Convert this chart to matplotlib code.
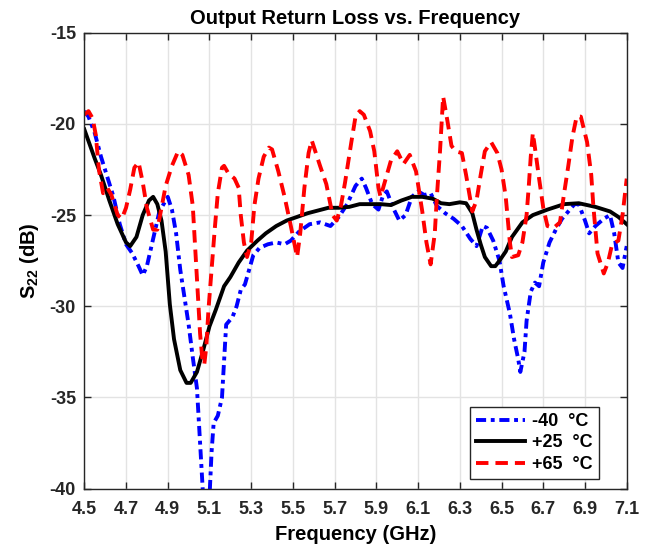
import matplotlib
matplotlib.use('Agg')
import matplotlib.pyplot as plt

plt.rcParams['font.family'] = ['Liberation Sans', 'DejaVu Sans']
plt.rcParams['mathtext.fontset'] = 'custom'
plt.rcParams['mathtext.rm'] = 'Liberation Sans'
plt.rcParams['mathtext.bf'] = 'Liberation Sans:bold'

# -40 C trace
freq_cold = [4.50, 4.52, 4.55, 4.58, 4.61, 4.64, 4.67, 4.70, 4.73, 4.76, 4.78, 4.80,
             4.83, 4.86, 4.90, 4.92, 4.94, 4.96, 4.98, 5.00, 5.02, 5.04, 5.05, 5.06,
             5.07, 5.085, 5.10, 5.11, 5.12, 5.14, 5.16, 5.17, 5.18, 5.21, 5.23, 5.25,
             5.27, 5.29, 5.31, 5.34, 5.38, 5.42, 5.46, 5.49, 5.53, 5.58, 5.63, 5.68,
             5.72, 5.76, 5.80, 5.83, 5.85, 5.88, 5.91, 5.93, 5.95, 5.98, 6.01, 6.04,
             6.07, 6.10, 6.13, 6.16, 6.19, 6.23, 6.27, 6.31, 6.35, 6.38, 6.41, 6.43,
             6.46, 6.49, 6.51, 6.54, 6.56, 6.58, 6.59, 6.61, 6.62, 6.64, 6.66, 6.68,
             6.70, 6.73, 6.76, 6.79, 6.82, 6.85, 6.87, 6.90, 6.92, 6.95, 6.99, 7.02,
             7.04, 7.06, 7.08, 7.10]
s22_cold = [-19.3, -19.6, -20.5, -21.8, -22.9, -24.0, -25.5, -26.6, -27.1, -27.8, -28.3, -27.8,
            -26.3, -24.8, -24.0, -24.7, -26.0, -28.0, -29.5, -31.0, -32.8, -34.5, -36.5, -38.5,
            -40.5, -41.5, -40.5, -38.0, -36.4, -36.0, -35.0, -33.0, -31.0, -30.6, -30.0, -29.1,
            -28.8, -28.0, -27.2, -26.8, -26.6, -26.5, -26.6, -26.4, -25.9, -25.5, -25.4, -25.6,
            -25.1, -24.4, -23.4, -23.0, -23.5, -24.4, -24.7, -24.0, -23.7, -24.6, -25.3, -25.0,
            -24.0, -23.7, -23.9, -23.8, -24.5, -24.9, -25.2, -25.6, -26.3, -26.7, -25.6, -25.7,
            -26.4, -27.5, -28.9, -30.4, -31.8, -32.9, -33.6, -32.5, -30.8, -29.2, -28.7, -28.9,
            -27.6, -26.5, -25.8, -25.2, -24.8, -24.4, -24.4, -25.3, -26.0, -25.6, -25.2, -25.0,
            -26.0, -27.6, -27.9, -26.7]

# +25 C trace
freq_room = [4.50, 4.55, 4.58, 4.62, 4.66, 4.70, 4.72, 4.75, 4.78, 4.81, 4.83, 4.85,
             4.87, 4.89, 4.91, 4.93, 4.96, 4.99, 5.01, 5.04, 5.07, 5.10, 5.13, 5.17,
             5.20, 5.24, 5.28, 5.33, 5.37, 5.42, 5.47, 5.52, 5.57, 5.62, 5.67, 5.72,
             5.77, 5.82, 5.87, 5.92, 5.97, 6.02, 6.07, 6.12, 6.17, 6.21, 6.25, 6.30,
             6.33, 6.36, 6.38, 6.40, 6.42, 6.45, 6.47, 6.49, 6.52, 6.55, 6.60, 6.65,
             6.72, 6.80, 6.87, 6.95, 7.02, 7.06, 7.10]
s22_room = [-20.3, -21.9, -22.8, -24.2, -25.5, -26.5, -26.7, -26.2, -25.0, -24.2, -24.0, -24.4,
            -25.3, -27.0, -29.9, -31.8, -33.5, -34.2, -34.2, -33.6, -32.4, -31.1, -30.2, -28.9,
            -28.4, -27.6, -26.95, -26.4, -26.0, -25.6, -25.3, -25.1, -24.9, -24.75, -24.6, -24.6,
            -24.55, -24.4, -24.4, -24.4, -24.45, -24.2, -24.0, -24.0, -24.1, -24.35, -24.4, -24.3,
            -24.35, -24.9, -25.8, -26.6, -27.3, -27.8, -27.8, -27.5, -27.0, -26.2, -25.4, -25.0,
            -24.7, -24.4, -24.35, -24.55, -24.8, -25.1, -25.5]

# +65 C trace
freq_hot = [4.50, 4.52, 4.54, 4.555, 4.57, 4.59, 4.61, 4.63, 4.66, 4.68, 4.70, 4.72,
            4.74, 4.76, 4.78, 4.80, 4.83, 4.85, 4.87, 4.89, 4.92, 4.95, 4.97, 5.00,
            5.02, 5.03, 5.045, 5.055, 5.065, 5.075, 5.085, 5.095, 5.11, 5.125, 5.14, 5.16,
            5.17, 5.19, 5.22, 5.24, 5.25, 5.265, 5.28, 5.30, 5.315, 5.335, 5.36, 5.385,
            5.40, 5.43, 5.46, 5.49, 5.52, 5.535, 5.555, 5.575, 5.59, 5.61, 5.63, 5.66,
            5.69, 5.71, 5.73, 5.75, 5.78, 5.80, 5.82, 5.84, 5.87, 5.89, 5.91, 5.92,
            5.94, 5.97, 6.00, 6.03, 6.06, 6.09, 6.12, 6.14, 6.16, 6.18, 6.19, 6.205,
            6.22, 6.24, 6.26, 6.28, 6.31, 6.33, 6.36, 6.38, 6.40, 6.42, 6.45, 6.48,
            6.50, 6.52, 6.54, 6.55, 6.58, 6.60, 6.62, 6.63, 6.64, 6.65, 6.66, 6.68,
            6.70, 6.72, 6.75, 6.78, 6.80, 6.82, 6.84, 6.86, 6.88, 6.91, 6.93, 6.94,
            6.96, 6.99, 7.01, 7.03, 7.06, 7.08, 7.10]
s22_hot = [-19.5, -19.3, -19.7, -20.6, -22.5, -23.8, -23.5, -23.9, -25.0, -25.2, -24.6, -23.6,
           -22.4, -22.1, -23.2, -24.6, -25.8, -25.8, -24.6, -23.4, -22.3, -21.5, -21.7, -22.8,
           -24.5, -26.5, -29.5, -31.5, -32.8, -33.2, -32.2, -30.2, -28.0, -25.8, -23.8, -22.4,
           -22.3, -22.7, -23.0, -23.5, -25.0, -26.5, -27.3, -26.5, -24.5, -23.0, -21.8, -21.3,
           -21.4, -22.6, -24.0, -25.6, -27.3, -26.0, -23.5, -21.6, -20.9, -21.6, -22.3, -23.3,
           -25.0, -25.3, -24.5, -23.2, -21.0, -19.6, -19.3, -19.5, -20.4, -21.5, -23.5, -24.0,
           -23.2, -22.0, -21.5, -22.2, -21.7, -22.6, -24.8, -26.5, -27.7, -26.0, -24.0, -21.5,
           -18.5, -19.8, -21.2, -21.5, -21.6, -22.8, -24.8, -24.2, -22.8, -21.5, -21.0, -21.6,
           -22.5, -24.0, -26.5, -27.3, -27.2, -26.5, -25.0, -23.5, -21.8, -20.5, -21.3, -23.0,
           -24.6, -25.6, -25.7, -25.4, -23.8, -22.3, -20.7, -19.6, -19.6, -21.0, -22.8, -24.5,
           -27.1, -28.2, -27.6, -26.6, -26.4, -25.0, -23.0]

labels = ['-40  °C', '+25  °C', '+65  °C']
x_ticks = [4.5, 4.7, 4.9, 5.1, 5.3, 5.5, 5.7, 5.9, 6.1, 6.3, 6.5, 6.7, 6.9, 7.1]
y_ticks = [-40, -35, -30, -25, -20, -15]

fig = plt.figure(figsize=(6.51, 5.44), dpi=100)
ax = fig.add_axes([0.1295, 0.1017, 0.8332, 0.8382])

lw = 2.8
ax.plot(freq_cold, s22_cold, color='#0000ff', lw=lw, linestyle=(0, (2.6, 1.2, 1.0, 1.2)), label=labels[0])
ax.plot(freq_room, s22_room, color='black', lw=lw, linestyle='-', label=labels[1])
ax.plot(freq_hot, s22_hot, color='#ff0000', lw=lw, linestyle=(0, (3.2, 1.8)), label=labels[2])

ax.set_xlim(4.5, 7.1)
ax.set_ylim(-40, -15)
ax.set_xticks(x_ticks)
ax.set_yticks(y_ticks)
ax.set_xticklabels([f'{t:.1f}' for t in x_ticks])
ax.set_yticklabels([str(t) for t in y_ticks])
ax.tick_params(direction='in', length=5, width=1, top=True, right=True,
               labelsize=13, colors='#262626')
ax.tick_params(axis='x', pad=9)
ax.tick_params(axis='y', pad=6)
for lab in ax.get_xticklabels() + ax.get_yticklabels():
    lab.set_fontweight('bold')
for sp in ax.spines.values():
    sp.set_color('#262626')
    sp.set_linewidth(1)
ax.grid(True, color='#e3e3e3', linewidth=1)
ax.set_axisbelow(True)

ax.set_title('Output Return Loss vs. Frequency', fontsize=14.5, fontweight='bold', pad=6)
ax.set_xlabel('Frequency (GHz)', fontsize=14.5, fontweight='bold', labelpad=5)
ax.set_ylabel(r'$\mathbf{S_{22}}$ (dB)', fontsize=14.5, fontweight='bold', labelpad=6)

leg = ax.legend(loc='lower right', bbox_to_anchor=(0.9495, 0.0206),
                prop={'weight': 'bold', 'size': 13}, frameon=True, fancybox=False,
                edgecolor='#262626', framealpha=1, handlelength=2.7, handletextpad=0.4,
                labelspacing=0.25, borderpad=0.35, borderaxespad=0)
leg.get_frame().set_linewidth(1)

fig.savefig('out.png', dpi=100)
